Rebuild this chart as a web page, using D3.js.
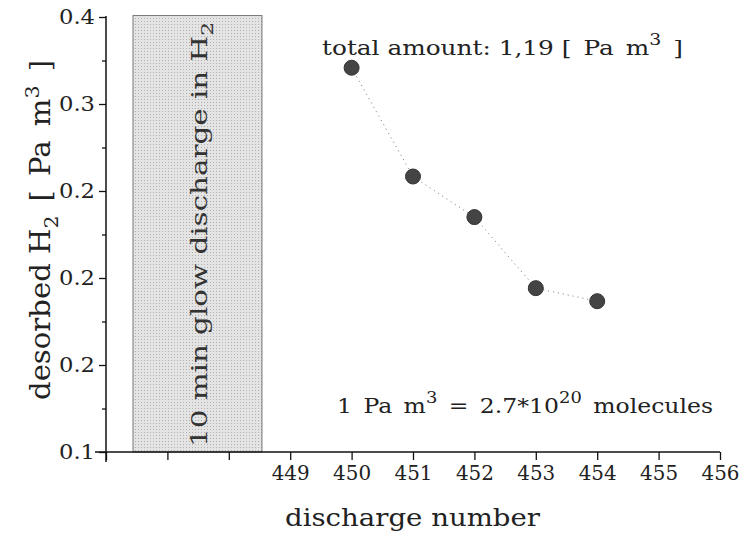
<!DOCTYPE html>
<html><head><meta charset="utf-8">
<script src="https://cdn.jsdelivr.net/npm/d3@7"></script>
<style>body{margin:0;background:#fff}svg{display:block}text{font-family:"DejaVu Serif",serif;fill:#222}</style>
</head><body>
<svg id="c" width="744" height="538"></svg>
<script>
const discharges = [450, 451, 452, 453, 454];
const desorbed = [0.365, 0.290, 0.262, 0.213, 0.204];
const yTickLabels = ["0.1", "0.2", "0.2", "0.2", "0.3", "0.4"];
const xTickValues = [446, 447, 448, 449, 450, 451, 452, 453, 454, 455, 456];
const xTickLabels = ["", "", "", "449", "450", "451", "452", "453", "454", "455", "456"];
const glowSpan = [446.44, 448.54];

const svg = d3.select("#c");
const x = d3.scaleLinear().domain([446, 456]).range([106, 720]);
const y = d3.scaleLinear().domain([0.1, 0.4]).range([452, 17]);
const yTicks = d3.range(6).map(i => 0.1 + i * 0.06);
const yMinor = d3.range(5).map(i => 0.13 + i * 0.06);

// glow discharge box
const defs = svg.append("defs");
const pat = defs.append("pattern").attr("id","dots").attr("width",3).attr("height",3).attr("patternUnits","userSpaceOnUse");
pat.append("rect").attr("width",3).attr("height",3).attr("fill","#e4e4e4");
pat.append("rect").attr("width",1).attr("height",1).attr("fill","#b0b0b0");
svg.append("rect")
  .attr("x", x(glowSpan[0])).attr("y", y(0.401))
  .attr("width", x(glowSpan[1]) - x(glowSpan[0])).attr("height", y(0.1) - y(0.401))
  .attr("fill", "url(#dots)").attr("stroke", "#777").attr("stroke-width", 1);
svg.append("text")
  .attr("transform", `translate(207,${(y(0.1)+y(0.4))/2}) rotate(-90)`)
  .attr("text-anchor", "middle").attr("font-size", 23).style("fill","#333")
  .attr("textLength", 425).attr("lengthAdjust", "spacingAndGlyphs")
  .html('10 min glow discharge in H<tspan font-size="17" dy="6">2</tspan>');

// axes
const gy = svg.append("g").attr("transform", "translate(106,0)")
  .call(d3.axisLeft(y).tickValues(yTicks).tickSize(7).tickPadding(4).tickFormat((d, i) => yTickLabels[i]));
gy.select(".domain").remove();
gy.selectAll("text").attr("font-size", 20).attr("font-family", "DejaVu Serif")
  .attr("textLength", 36).attr("lengthAdjust", "spacingAndGlyphs").attr("dy", "0.3em");
svg.append("g").attr("transform", "translate(106,0)")
  .call(d3.axisLeft(y).tickValues(yMinor).tickSize(4).tickFormat(""))
  .select(".domain").remove();
svg.append("line").attr("x1", 106).attr("x2", 106).attr("y1", y(0.4) - 1).attr("y2", 462)
  .attr("stroke", "#111").attr("stroke-width", 1.5);

const gx = svg.append("g").attr("transform", "translate(0,452)")
  .call(d3.axisBottom(x).tickValues(xTickValues).tickSize(8).tickPadding(6).tickFormat((d, i) => xTickLabels[i]));
gx.select(".domain").remove();
gx.selectAll("text").attr("font-size", 20).attr("font-family", "DejaVu Serif")
  .filter((d, i) => xTickLabels[i] !== "")
  .attr("textLength", 38).attr("lengthAdjust", "spacingAndGlyphs");
svg.append("line").attr("x1", 95).attr("x2", x(456)).attr("y1", 452).attr("y2", 452)
  .attr("stroke", "#111").attr("stroke-width", 1.5);
svg.selectAll(".tick line").attr("stroke", "#111").attr("stroke-width", 1.3);

// dotted line & points
const line = d3.line().x((d, i) => x(discharges[i])).y(d => y(d));
svg.append("path").datum(desorbed).attr("d", line)
  .attr("fill", "none").attr("stroke", "#777").attr("stroke-width", 1).attr("stroke-dasharray", "1 4");
svg.selectAll("circle.pt").data(desorbed).join("circle")
  .attr("cx", (d, i) => x(discharges[i])).attr("cy", d => y(d)).attr("r", 7.5)
  .attr("fill", "#444").attr("stroke", "#333");

// titles
const sp = "&#160;&#8198;";
svg.append("text").attr("x", 285).attr("y", 526).attr("font-size", 25)
  .attr("textLength", 255).attr("lengthAdjust", "spacingAndGlyphs")
  .text("discharge number");
svg.append("text").attr("transform", "translate(50,400) rotate(-90)").attr("font-size", 27)
  .attr("textLength", 340).attr("lengthAdjust", "spacingAndGlyphs")
  .html(`desorbed H<tspan font-size="19" dy="8">2</tspan><tspan dy="-8">${sp}[${sp}Pa${sp}m</tspan><tspan font-size="19" dy="-11">3</tspan><tspan dy="11">${sp}]</tspan>`);

svg.append("text").attr("x", 322).attr("y", 55).attr("font-size", 21)
  .attr("textLength", 361).attr("lengthAdjust", "spacingAndGlyphs")
  .html(`total amount: 1,19 [${sp}Pa${sp}m<tspan font-size="16" dy="-10">3</tspan><tspan dy="10">${sp}]</tspan>`);
svg.append("text").attr("x", 337).attr("y", 413).attr("font-size", 21)
  .attr("textLength", 376).attr("lengthAdjust", "spacingAndGlyphs")
  .html(`1${sp}Pa${sp}m<tspan font-size="16" dy="-10">3</tspan><tspan dy="10">${sp}=${sp}2.7*10</tspan><tspan font-size="16" dy="-10">20</tspan><tspan dy="10">${sp}molecules</tspan>`);
</script>
</body></html>
